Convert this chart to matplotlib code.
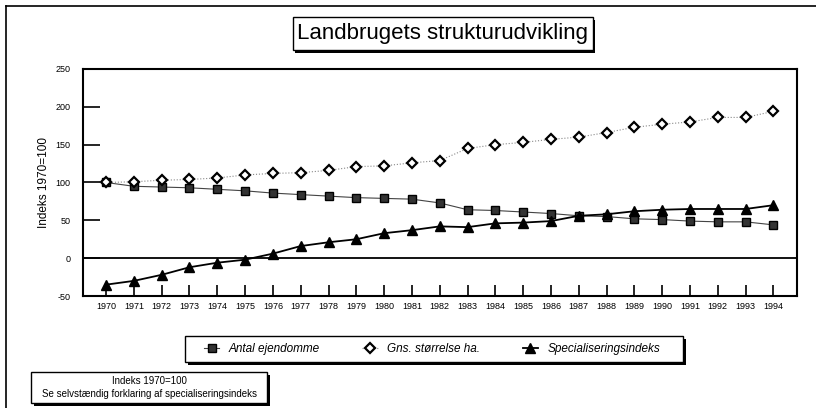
import matplotlib
matplotlib.use("Agg")
import matplotlib.pyplot as plt
from matplotlib.patches import Rectangle
from matplotlib.lines import Line2D

plt.rcParams['font.family'] = ['Liberation Sans', 'DejaVu Sans']

# Data
years = [str(y) for y in range(1970, 1995)]
antal = [100, 95, 94, 93, 91, 89, 86, 84, 82, 80, 79, 78, 73,
         64, 63, 61, 59, 56, 55, 52, 51, 49, 48, 48, 44]
gns = [100, 101, 103, 104, 106, 110, 112, 113, 116, 121, 122, 126, 129,
       145, 150, 153, 157, 160, 166, 173, 177, 180, 186, 186, 194]
spec = [-35, -30, -22, -12, -6, -2, 6, 16, 21, 25, 33, 37, 42,
        41, 46, 47, 49, 56, 58, 62, 64, 65, 65, 65, 70]
y_ticks = [-50, 0, 50, 100, 150, 200, 250]

W, H = 816, 408
fig = plt.figure(figsize=(W / 100, H / 100), dpi=100)


def box(x1, y1, x2, y2, dx=2, dy=3):
    """Boks med skygge, i pixel-koordinater (y fra toppen)"""
    fig.add_artist(Rectangle(((x1 + dx) / W, 1 - (y2 + dy) / H), (x2 - x1) / W, (y2 - y1) / H,
                             transform=fig.transFigure, facecolor='black', edgecolor='black', lw=0))
    fig.add_artist(Rectangle((x1 / W, 1 - y2 / H), (x2 - x1) / W, (y2 - y1) / H,
                             transform=fig.transFigure, facecolor='white', edgecolor='black', lw=1))


# ydre ramme (venstre og top)
fig.add_artist(Line2D([6 / W, 6 / W], [0, 1 - 6 / H], transform=fig.transFigure, color='black', lw=1.2))
fig.add_artist(Line2D([6 / W, 1], [1 - 6 / H, 1 - 6 / H], transform=fig.transFigure, color='black', lw=1.2))

ax = fig.add_axes([83 / W, 1 - 296 / H, (797 - 83) / W, (296 - 69) / H])
x = list(range(len(years)))

ax.plot(x, antal, color='#444444', lw=0.8, marker='s', markersize=5.5,
        markerfacecolor='#333333', markeredgecolor='black', label='Antal ejendomme')
ax.plot(x, gns, color='#888888', lw=0.8, linestyle=':', marker='D', markersize=4.8,
        markerfacecolor='white', markeredgecolor='black', markeredgewidth=1.6,
        label='Gns. størrelse ha.')
ax.plot(x, spec, color='black', lw=1.3, marker='^', markersize=7,
        markerfacecolor='black', markeredgecolor='black', label='Specialiseringsindeks')

ax.axhline(0, color='black', lw=1.3)
ax.set_xlim(-0.83, 24.85)
ax.set_ylim(-50, 250)
ax.set_xticks(x)
ax.set_xticklabels(years, fontsize=6.5)
ax.set_yticks(y_ticks)
ax.set_yticklabels([str(v) for v in y_ticks], fontsize=6.5)
ax.tick_params(axis='y', direction='in', length=12, width=1.2, pad=9)
ax.tick_params(axis='x', direction='in', length=8, width=1.2, pad=4)
for s in ax.spines.values():
    s.set_linewidth(1.5)
ax.set_ylabel('Indeks 1970=100', fontsize=8.5, labelpad=4)

# titel
box(293, 17, 593, 50, dx=2, dy=3)
fig.text(443 / W, 1 - 34 / H, 'Landbrugets strukturudvikling', fontsize=16,
         ha='center', va='center')

# forklaring
box(185, 336, 683, 362, dx=3, dy=3)
fig.legend(loc='center', bbox_to_anchor=(432 / W, 1 - 349 / H), ncol=3, frameon=False,
           prop={'size': 8.5, 'style': 'italic'}, handlelength=1.3, columnspacing=3.6,
           handletextpad=0.8)

# note
box(31, 372, 267, 403, dx=3, dy=3)
fig.text(149 / W, 1 - 381 / H, 'Indeks 1970=100', fontsize=7, ha='center', va='center')
fig.text(149 / W, 1 - 394 / H, 'Se selvstændig forklaring af specialiseringsindeks',
         fontsize=7, ha='center', va='center')

fig.savefig('out.png', dpi=100)
